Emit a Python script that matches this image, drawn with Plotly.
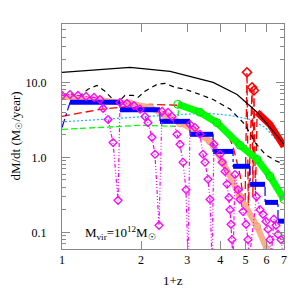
import plotly.graph_objects as go
import math

# ---------------- data ----------------
blk_solid_x = [1.0, 1.395, 1.815, 2.58, 3.26, 3.76, 4.64, 5.53, 6.76, 7.0]
blk_solid_y = [13.6, 14.9, 15.8, 14.0, 11.3, 10.0, 6.9, 4.0, 1.74, 1.49]

blk_dash_x = [1.0, 1.073, 1.15, 1.256, 1.359, 1.458, 1.564, 1.634, 1.737, 1.864, 1.947,
              2.07, 2.30, 2.47, 2.69, 2.94, 3.35, 3.76, 4.36, 4.97, 5.43, 5.93, 6.47, 7.0]
blk_dash_y = [6.7, 7.1, 6.3, 8.1, 9.1, 7.6, 5.9, 5.4, 6.7, 6.7, 6.3,
              7.6, 9.4, 9.7, 8.6, 8.1, 6.9, 5.9, 4.4, 2.75, 1.58, 1.1, 0.91, 0.81]

red_dash_x = [1.0, 1.395, 2.163, 2.813, 3.352, 3.89, 4.248, 4.477, 4.76, 4.973,
              5.06, 5.12, 5.29, 5.33, 5.38, 5.45, 5.53]
red_dash_y = [3.52, 4.37, 5.1, 4.94, 4.37, 3.21, 2.15, 1.40, 0.59, 0.20,
              13.6, 0.2, 8.6, 0.3, 7.8, 0.3, 4.0]
red_spike_x = [5.06, 5.29, 5.38]
red_spike_y = [13.6, 8.6, 7.8]
red_band_x = [5.53, 6.19, 7.0]
red_band_y = [4.0, 2.75, 1.4]

grn_dash_x = [1.0, 1.395, 1.982, 2.76, 2.78]
grn_dash_y = [2.36, 2.51, 2.67, 2.59, 5.1]
grn_band_x = [2.76, 3.35, 3.89, 4.76, 5.53, 6.19, 7.0]
grn_band_y = [5.1, 4.0, 2.9, 1.45, 0.94, 0.56, 0.275]

lblue_x = [1.027, 1.395, 1.982, 2.813, 3.659, 4.361, 5.195, 5.93, 6.47, 7.0]
lblue_y = [2.99, 3.21, 3.41, 3.74, 3.86, 3.63, 3.21, 2.51, 1.79, 1.36]

salmon_x = [1.0, 1.395, 1.815, 2.163, 2.467, 2.813, 3.152, 3.659, 4.102, 4.76, 5.53, 6.03]
salmon_y = [6.5, 5.9, 5.25, 4.64, 3.63, 2.84, 2.37, 1.63, 0.86, 0.30, 0.12, 0.059]

blue_start_x = [1.0, 1.073]
blue_start_y = [2.5, 5.41]
blue_step_lo = [1.073, 1.663, 2.36, 3.07, 3.76, 4.48, 5.2, 5.93, 6.64]
blue_step_hi = [1.663, 2.36, 3.07, 3.76, 4.48, 5.2, 5.93, 6.64, 7.0]
blue_step_y = [5.41, 4.3, 3.02, 2.03, 1.20, 0.76, 0.437, 0.251, 0.141]

mag_x = [1.0, 1.073, 1.15, 1.234, 1.324, 1.395, 1.433, 1.497, 1.564, 1.634,
         1.663, 1.768, 1.879, 1.982, 2.070, 2.125, 2.200, 2.259, 2.340,
         2.403, 2.532, 2.623, 2.740, 2.813, 2.888, 2.965, 3.017,
         3.071, 3.208, 3.352, 3.441, 3.502, 3.595, 3.659, 3.724,
         3.788, 3.995, 4.066, 4.174, 4.248, 4.322, 4.361, 4.399, 4.438, 4.477,
         4.555, 4.677, 4.760, 4.887, 5.017, 5.105, 5.150,
         5.50, 5.673, 5.824, 5.979, 6.084, 6.192, 6.246,
         6.40, 6.526, 6.641, 6.818, 6.939]
mag_y = [6.7, 6.9, 6.7, 6.5, 6.3, 5.9, 4.5, 3.2, 1.58, 0.267,
         5.4, 5.25, 4.9, 4.4, 3.5, 2.9, 1.85, 1.10, 0.124,
         4.1, 4.0, 3.5, 2.03, 1.49, 0.86, 0.37, 0.04,
         2.75, 2.5, 2.03, 1.10, 0.86, 0.51, 0.275, 0.04,
         1.49, 1.10, 0.86, 0.65, 0.44, 0.29, 0.20, 0.128, 0.08, 0.04,
         0.59, 0.37, 0.275, 0.19, 0.128, 0.08, 0.04,
         0.30, 0.20, 0.174, 0.14, 0.11, 0.08, 0.04,
         0.15, 0.124, 0.094, 0.08, 0.05]

x_ticks = [1, 2, 3, 4, 5, 6, 7]
x_ticktext = ["1", "2", "3", "4", "5", "6", "7"]
y_ticks = [0.1, 1, 10]
y_ticktext = ["0.1", "1.0", "10.0"]
y_minor = [0.07, 0.08, 0.09, 0.2, 0.3, 0.4, 0.5, 0.6, 0.7, 0.8, 0.9,
           2, 3, 4, 5, 6, 7, 8, 9, 20, 30, 40, 50]
x_range = [1, 7]
y_range = [0.06, 60]

# ---------------- figure ----------------
fig = go.Figure()

fig.add_trace(go.Scatter(x=grn_dash_x, y=grn_dash_y, mode="lines",
                         line=dict(color="#00ff00", width=1.3, dash="6px,3px")))
fig.add_trace(go.Scatter(x=lblue_x, y=lblue_y, mode="lines",
                         line=dict(color="#33b5ff", width=1.3, dash="2px,2px")))
fig.add_trace(go.Scatter(x=red_dash_x, y=red_dash_y, mode="lines",
                         line=dict(color="#ff0000", width=1.3, dash="8px,4px")))
fig.add_trace(go.Scatter(x=blk_dash_x, y=blk_dash_y, mode="lines",
                         line=dict(color="black", width=1.2, dash="5px,4px")))
fig.add_trace(go.Scatter(x=salmon_x, y=salmon_y, mode="lines+markers",
                         line=dict(color="#f8b08c", width=6),
                         marker=dict(symbol="circle-open", size=7, color="#f49a70",
                                     line=dict(width=1))))
fig.add_trace(go.Scatter(x=grn_band_x, y=grn_band_y, mode="lines+markers",
                         line=dict(color="#00ff00", width=7),
                         marker=dict(symbol="circle-open", size=8, color="#00dd00",
                                     line=dict(width=1))))

# blue staircase: dash-dot connectors + thick plateau bands
bx, by, px, py = list(blue_start_x), list(blue_start_y), [], []
for lo, hi, v in zip(blue_step_lo, blue_step_hi, blue_step_y):
    bx += [lo, hi]
    by += [v, v]
    px += [lo, hi, None]
    py += [v, v, None]
fig.add_trace(go.Scatter(x=bx, y=by, mode="lines",
                         line=dict(color="#0000ff", width=1.2, dash="dashdot")))
fig.add_trace(go.Scatter(x=px, y=py, mode="lines",
                         line=dict(color="#0000ff", width=5)))

fig.add_trace(go.Scatter(x=mag_x, y=mag_y, mode="lines+markers",
                         line=dict(color="#ff00ff", width=1.2,
                                   dash="4px,2px,1px,2px,1px,2px,1px,2px"),
                         marker=dict(symbol="diamond-open", size=6, color="#ff00ff",
                                     line=dict(width=1.3))))
fig.add_trace(go.Scatter(x=red_band_x, y=red_band_y, mode="lines",
                         line=dict(color="#ff0000", width=7)))
fig.add_trace(go.Scatter(x=red_spike_x, y=red_spike_y, mode="markers",
                         marker=dict(symbol="diamond-open", size=7, color="#ff0000",
                                     line=dict(width=1.5))))
fig.add_trace(go.Scatter(x=blk_solid_x, y=blk_solid_y, mode="lines",
                         line=dict(color="black", width=1.2)))

font = dict(family="Liberation Serif, DejaVu Serif, serif", size=12, color="black")
axis_common = dict(type="log", showgrid=False, zeroline=False, showline=True,
                   linecolor="#888888", linewidth=1, mirror="allticks",
                   ticks="inside", tickcolor="#888888", tickfont=font,
                   automargin=False)

# the page body adds an 8px offset, so the figure is laid out 8px up/left
fig.update_layout(
    template="none",
    width=300, height=300, autosize=False,
    margin=dict(l=54, r=24, t=16, b=59, pad=0),
    paper_bgcolor="white", plot_bgcolor="white", showlegend=False,
    font=font,
    xaxis=dict(axis_common, range=[math.log10(x_range[0]), math.log10(x_range[1])],
               tickvals=x_ticks, ticktext=x_ticktext, ticklen=8),
    yaxis=dict(axis_common, range=[math.log10(y_range[0]), math.log10(y_range[1])],
               tickvals=y_ticks, ticktext=y_ticktext, ticklen=8,
               ticklabelstandoff=12,
               minor=dict(tickvals=y_minor, ticks="inside", ticklen=4,
                          tickcolor="#888888", showgrid=False)),
    annotations=[
        dict(text="dM/dt (M<sub>☉</sub>/year)", xref="paper", yref="paper",
             x=-0.207, y=0.5, xanchor="center", yanchor="middle",
             textangle=-90, showarrow=False, font=dict(font, size=13)),
        dict(text="1+z", xref="paper", yref="paper", x=0.5, y=-0.138,
             xanchor="center", yanchor="middle",
             showarrow=False, font=dict(font, size=13)),
        dict(text="M<sub>vir</sub>=10<sup>12</sup>M<sub>☉</sub>", xref="paper",
             yref="paper", x=0.095, y=0.071, xanchor="left", yanchor="middle",
             showarrow=False, font=dict(font, size=13)),
    ],
)

fig.write_html("out.html")
